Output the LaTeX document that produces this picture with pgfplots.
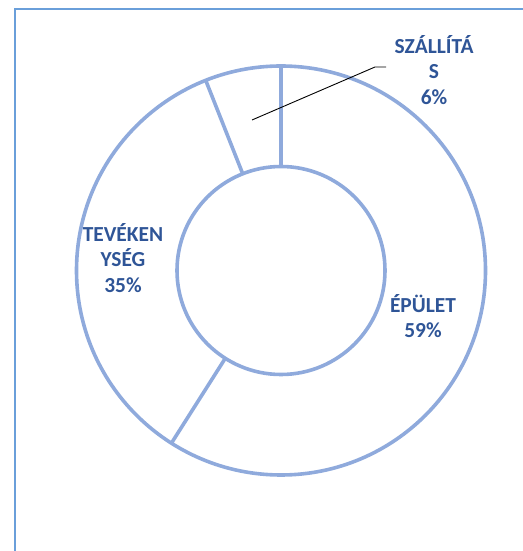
\documentclass[border=0pt]{standalone}
\usepackage{pgfplots}
\pgfplotsset{compat=1.18}
\usepackage{pgfplotstable}
\usepackage{fontspec}
\setmainfont{Carlito}
\definecolor{ring}{HTML}{8FAADC}
\definecolor{lab}{HTML}{2F5597}
\definecolor{framec}{HTML}{6A9FDA}
\pgfplotstableread{
part value
1 59
2 35
3 6
}\donut
\pgfplotstablegetelem{0}{value}\of\donut
\pgfmathsetmacro{\angB}{90-3.6*\pgfplotsretval}
\pgfplotstablegetelem{1}{value}\of\donut
\pgfmathsetmacro{\angC}{\angB-3.6*\pgfplotsretval}
\def\angA{90}
\begin{document}
\begin{tikzpicture}
\useasboundingbox (0,0) rectangle (523bp,551bp);
\begin{axis}[at={(0,0)},anchor=south west,scale only axis,
  width=523bp,height=551bp,xmin=0,xmax=523,ymin=0,ymax=551,hide axis]
\draw[framec,line width=2bp] (axis cs:15,-10) -- (axis cs:15,542) -- (axis cs:540,542);
\draw[ring,line width=3.6bp] (axis cs:281,280.5) circle[radius=204.5bp];
\draw[ring,line width=3.6bp] (axis cs:281,280.5) circle[radius=104bp];
\draw[ring,line width=3.6bp] (axis cs:281,280.5) ++(\angA:104bp) -- ++(\angA:100.5bp);
\draw[ring,line width=3.6bp] (axis cs:281,280.5) ++(\angB:104bp) -- ++(\angB:100.5bp);
\draw[ring,line width=3.6bp] (axis cs:281,280.5) ++(\angC:104bp) -- ++(\angC:100.5bp);
\draw[black,line width=0.9bp] (axis cs:252,431) -- (axis cs:375,484) -- (axis cs:386,484);
\node[lab,font=\bfseries\fontsize{21.5}{25.5}\selectfont,align=center] at (axis cs:434,481) {SZÁLLÍTÁ\\S\\6\%};
\node[lab,font=\bfseries\fontsize{21.5}{25.5}\selectfont,align=center] at (axis cs:123,293) {TEVÉKEN\\YSÉG\\35\%};
\node[lab,font=\bfseries\fontsize{21.5}{25.5}\selectfont,align=center] at (axis cs:423,235) {ÉPÜLET\\59\%};
\end{axis}
\end{tikzpicture}
\end{document}
